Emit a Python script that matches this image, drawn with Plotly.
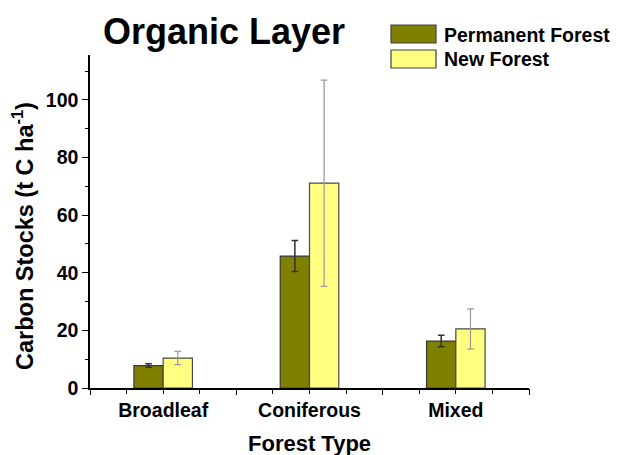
import plotly.graph_objects as go

categories = ["Broadleaf", "Coniferous", "Mixed"]
series_names = ["Permanent Forest", "New Forest"]
permanent = [7.8, 45.8, 16.3]
permanent_err = [0.6, 5.4, 2.0]
new_forest = [10.4, 71.1, 20.5]
new_err = [2.3, 35.8, 7.0]
y_title = "Carbon Stocks (t C ha<sup>-1</sup>)"
x_title = "Forest Type"
chart_title = "Organic Layer"

COL_PERM = "#808000"
COL_NEW = "#FFFF80"
FONT = "Arial, Liberation Sans, sans-serif"

# the page body adds an 8px margin, so the figure is drawn 8px in from the window corner
OFF = 8
W, H = 618 - OFF, 455 - OFF
# plot area in window pixels: x 90..529, y 55..388
ML, MR, MT, MB = 90 - OFF, 618 - 529, 55 - OFF, 455 - 388
PW, PH = W - ML - MR, H - MT - MB


def px_x(px):
    return (px - 90) / PW


def px_y(py):
    return (388 - py) / PH


def bold(size):
    return dict(size=size, family=FONT, color="black", weight="bold")


xpos = list(range(len(categories)))

fig = go.Figure()
fig.add_trace(go.Bar(
    x=xpos, y=permanent, name=series_names[0],
    marker=dict(color=COL_PERM, line=dict(color="#383838", width=1.2)),
    error_y=dict(type="data", array=permanent_err, color="#303030", thickness=1.5, width=3.3),
    showlegend=False,
))
fig.add_trace(go.Bar(
    x=xpos, y=new_forest, name=series_names[1],
    marker=dict(color=COL_NEW, line=dict(color="#484848", width=1.2)),
    error_y=dict(type="data", array=new_err, color="#999999", thickness=1.2, width=3.3),
    showlegend=False,
))

# legend drawn manually for large swatches
shapes = []
annotations = []
for i, (nm, col) in enumerate(zip(series_names, [COL_PERM, COL_NEW])):
    top = 25 + i * 25
    shapes.append(dict(type="rect", xref="paper", yref="paper",
                       x0=px_x(391), x1=px_x(436), y0=px_y(top), y1=px_y(top + 18),
                       fillcolor=col, line=dict(color="#404040", width=1.2)))
    annotations.append(dict(text=nm, xref="paper", yref="paper", x=px_x(442), y=px_y(top + 9.5),
                            xanchor="left", yanchor="middle", showarrow=False, font=bold(19.5)))

annotations.append(dict(text=y_title, xref="paper", yref="paper", x=px_x(23), y=px_y(236),
                        xanchor="center", yanchor="middle", textangle=-90, showarrow=False,
                        font=bold(23.5)))
annotations.append(dict(text=x_title, xref="paper", yref="paper", x=0.5, y=px_y(443),
                        xanchor="center", yanchor="middle", showarrow=False, font=bold(22)))

fig.update_layout(
    width=W, height=H,
    margin=dict(l=ML, r=MR, t=MT, b=MB),
    paper_bgcolor="white", plot_bgcolor="white",
    barmode="group", bargap=0.6, bargroupgap=0,
    font=dict(family=FONT, color="black"),
    title=dict(text=chart_title, x=(224 - OFF) / W, xanchor="center", yref="container",
               y=1 - (31 - OFF) / H, yanchor="middle", font=bold(36)),
    shapes=shapes, annotations=annotations,
    showlegend=False,
)
fig.update_layout(xaxis2=dict(
    overlaying="x", range=[-0.5, 2.5], tickmode="array", tickvals=[-0.5, 0.5, 1.5, 2.5],
    showticklabels=False, ticks="outside", ticklen=6, tickwidth=1.4, tickcolor="black",
    showgrid=False, zeroline=False, showline=False, side="bottom", anchor="y", automargin=False,
))
fig.layout.xaxis.update(
    range=[-0.5, 2.5], tickmode="array", tickvals=xpos,
    ticktext=categories, tickfont=bold(19.5),
    showline=True, linecolor="black", linewidth=1.5, mirror=False,
    ticks="outside", ticklen=4, tickwidth=1.4, tickcolor="black",
    minor=dict(tickmode="linear", tick0=-0.5, dtick=0.25, ticks="outside", ticklen=4,
               tickwidth=1.4, tickcolor="black"),
    showgrid=False, zeroline=False, automargin=False,
)
fig.update_yaxes(
    range=[0, 115.6], tickmode="linear", tick0=0, dtick=20,
    tickfont=bold(19.5),
    showline=True, linecolor="black", linewidth=1.5, mirror=False,
    ticks="outside", ticklen=6, tickwidth=1.4, tickcolor="black",
    minor=dict(tickmode="linear", tick0=0, dtick=10, ticks="outside", ticklen=3,
               tickwidth=1.4, tickcolor="black"),
    showgrid=False, zeroline=False, automargin=False,
)
# invisible point so the boundary-tick axis renders
fig.add_trace(go.Scatter(x=[-0.5], y=[0], xaxis="x2", mode="markers",
                         marker=dict(opacity=0), hoverinfo="skip", showlegend=False))

fig.write_html("out.html")
